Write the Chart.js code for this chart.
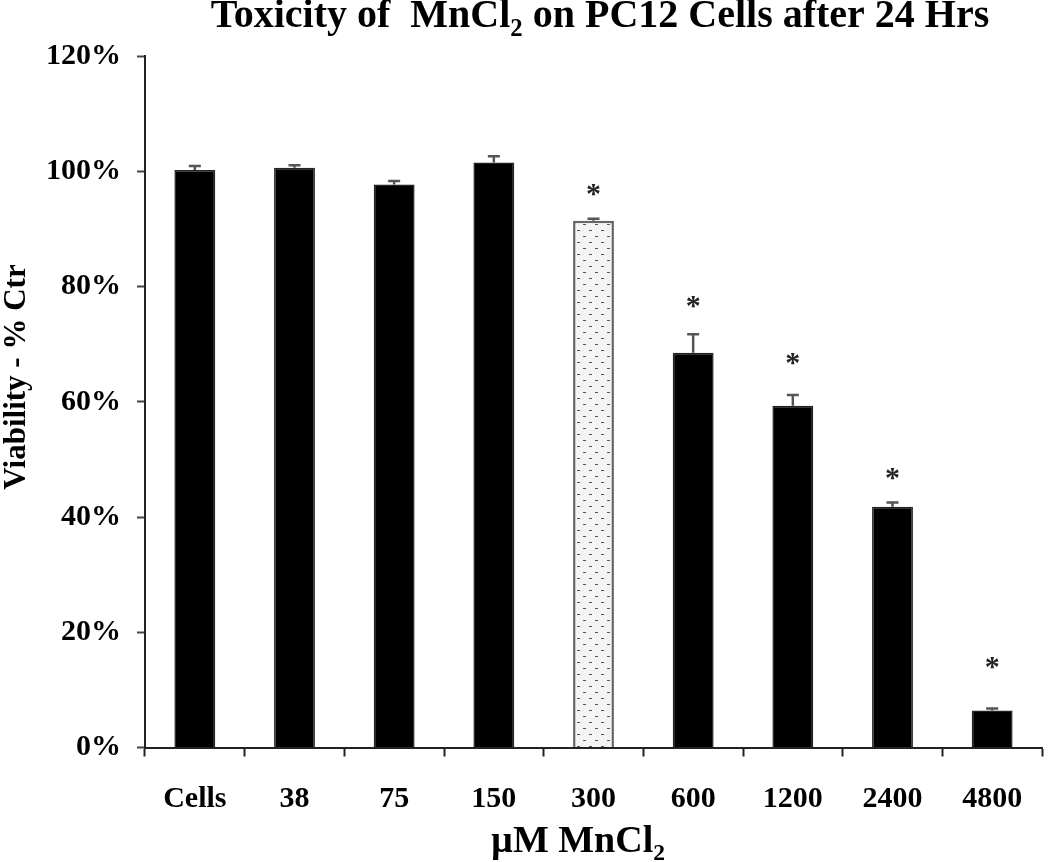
<!DOCTYPE html>
<html>
<head>
<meta charset="utf-8">
<script src="https://cdn.jsdelivr.net/npm/chart.js@4.4.1/dist/chart.umd.min.js"></script>
<style>
    html, body { margin: 0; padding: 0; background: #fff; }
    #wrap { width: 1050px; height: 862px; }
</style>
</head>
<body>
<div id="wrap"><canvas id="toxChart" width="1050" height="862"></canvas></div>
<script>
var categories = ['Cells', '38', '75', '150', '300', '600', '1200', '2400', '4800'];
var viability = [100.2, 100.6, 97.7, 101.5, 91.4, 68.5, 59.3, 41.8, 6.4];
var errorUp = [0.7, 0.45, 0.6, 1.1, 0.35, 3.2, 1.85, 0.7, 0.35];
var starLevel = [null, null, null, null, 96.7, 77.3, 67.4, 47.4, 14.7];
var yTicks = [0, 20, 40, 60, 80, 100, 120];

var serif = '"Liberation Serif", "Times New Roman", serif';

function dotPattern() {
    var c = document.createElement('canvas');
    c.width = 12;
    c.height = 12;
    var g = c.getContext('2d');
    g.fillStyle = '#f4f4f4';
    g.fillRect(0, 0, 12, 12);
    g.fillStyle = '#555';
    g.fillRect(1, 2, 3, 1);
    g.fillRect(7, 8, 3, 1);
    return g.createPattern(c, 'repeat');
}

var fills = categories.map(function (c, i) { return i === 4 ? dotPattern() : '#000'; });
var borders = categories.map(function (c, i) { return i === 4 ? '#666' : '#222'; });
var borderWidths = categories.map(function (c, i) { return i === 4 ? 2.5 : 1.5; });

// draws text with "2" as subscript where marked
function drawRich(ctx, parts, x, y, size, align) {
    var total = 0;
    parts.forEach(function (p) {
        ctx.font = 'bold ' + (p.sub ? size * 0.62 : size) + 'px ' + serif;
        total += ctx.measureText(p.t).width;
    });
    var cx = align === 'center' ? x - total / 2 : x;
    ctx.textAlign = 'left';
    ctx.textBaseline = 'alphabetic';
    parts.forEach(function (p) {
        ctx.font = 'bold ' + (p.sub ? size * 0.62 : size) + 'px ' + serif;
        ctx.fillText(p.t, cx, p.sub ? y + size * 0.22 : y);
        cx += ctx.measureText(p.t).width;
    });
}

var decorations = {
    id: 'decorations',
    afterDatasetsDraw: function (chart) {
        var ctx = chart.ctx;
        var xs = chart.scales.x;
        var ys = chart.scales.y;
        ctx.save();

        // error bars (upper only)
        ctx.strokeStyle = '#555';
        ctx.lineWidth = 2.5;
        for (var i = 0; i < viability.length; i++) {
            var px = xs.getPixelForValue(i);
            var top = ys.getPixelForValue(viability[i]);
            var cap = ys.getPixelForValue(viability[i] + errorUp[i]);
            ctx.beginPath();
            ctx.moveTo(px, top);
            ctx.lineTo(px, cap);
            ctx.moveTo(px - 6, cap);
            ctx.lineTo(px + 6, cap);
            ctx.stroke();
        }

        // significance stars
        ctx.fillStyle = '#222';
        ctx.font = 'bold 30px ' + serif;
        ctx.textAlign = 'center';
        ctx.textBaseline = 'middle';
        for (var j = 0; j < starLevel.length; j++) {
            if (starLevel[j] === null) continue;
            ctx.fillText('*', xs.getPixelForValue(j), ys.getPixelForValue(starLevel[j]) + 5);
        }

        // titles
        ctx.fillStyle = '#000';
        drawRich(ctx, [
            { t: 'Toxicity of  MnCl' }, { t: '2', sub: true }, { t: ' on PC12 Cells after 24 Hrs' }
        ], 600, 27, 40, 'center');

        drawRich(ctx, [{ t: '\u00b5M MnCl' }, { t: '2', sub: true }], 578, 852, 38, 'center');

        ctx.save();
        ctx.translate(25, 377);
        ctx.rotate(-Math.PI / 2);
        drawRich(ctx, [{ t: 'Viability - % Ctr' }], 0, 0, 31, 'center');
        ctx.restore();

        ctx.restore();
    }
};

new Chart(document.getElementById('toxChart').getContext('2d'), {
    type: 'bar',
    data: {
        labels: categories,
        datasets: [{
            data: viability,
            backgroundColor: fills,
            borderColor: borders,
            borderWidth: borderWidths,
            barPercentage: 0.41,
            categoryPercentage: 1
        }]
    },
    options: {
        responsive: false,
        animation: false,
        layout: {
            padding: { top: 56, right: 8, bottom: 0, left: 0 }
        },
        plugins: {
            legend: { display: false },
            tooltip: { enabled: false }
        },
        scales: {
            x: {
                grid: {
                    drawOnChartArea: false,
                    drawTicks: true,
                    tickLength: 9,
                    tickColor: '#222',
                    tickWidth: 2
                },
                border: { color: '#222', width: 2 },
                ticks: {
                    color: '#000',
                    padding: 25,
                    font: { family: serif, size: 30, weight: 'bold' }
                },
                afterFit: function (scale) { scale.height = 114.5; }
            },
            y: {
                min: 0,
                max: 120,
                afterBuildTicks: function (scale) {
                    scale.ticks = yTicks.map(function (v) { return { value: v }; });
                },
                grid: {
                    drawOnChartArea: false,
                    drawTicks: true,
                    tickLength: 8,
                    tickColor: '#444',
                    tickWidth: 2
                },
                border: { color: '#222', width: 2 },
                ticks: {
                    color: '#000',
                    padding: 16,
                    font: { family: serif, size: 30, weight: 'bold' },
                    callback: function (v) { return v + '%'; }
                },
                afterFit: function (scale) { scale.width = 145; }
            }
        }
    },
    plugins: [decorations]
});
</script>
</body>
</html>
